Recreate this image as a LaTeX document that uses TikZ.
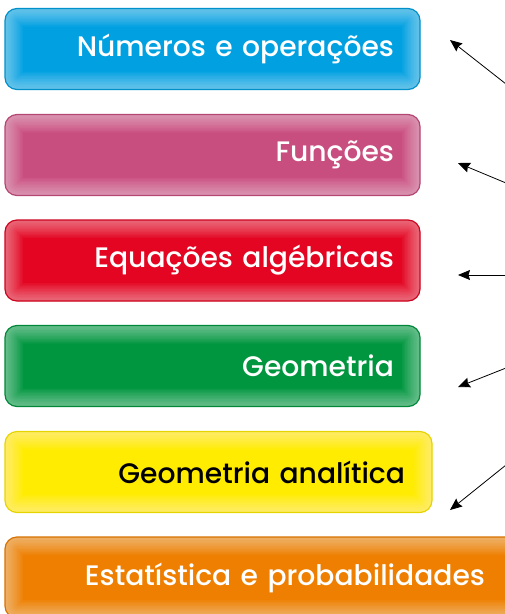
\documentclass[tikz,border=0pt]{standalone}
\usepackage{fontspec}
\setmainfont{Poppins Medium}
\usetikzlibrary{arrows.meta}

\definecolor{cblue}{HTML}{00A0E1}
\definecolor{cpink}{HTML}{C94E80}
\definecolor{cred}{HTML}{E30521}
\definecolor{cgreen}{HTML}{00963F}
\definecolor{cyellow}{HTML}{FFEC00}
\definecolor{corange}{HTML}{EE7F00}

\tikzset{
  box/.style={rectangle, rounded corners=12pt, fill=#1, draw=#1!90!black, line width=1.2pt,
    minimum height=81pt, align=right, font=\fontsize{28.2}{32}\selectfont,
    path picture={
      \foreach \w in {3,6,...,36}
        \draw[white, opacity=0.045, line width=\w pt, rounded corners=12pt]
          (path picture bounding box.south west) rectangle (path picture bounding box.north east);
    }},
  pointer/.style={line width=0.8pt, -{Stealth[length=12pt,width=10pt,inset=1.5pt]}}
}

\begin{document}
\begin{tikzpicture}[x=1pt,y=-1pt]
  \useasboundingbox (0,0) rectangle (505,614);
  \clip (0,0) rectangle (505,614);

  % topic boxes
  \node[box=cblue, text=white, text width=363pt, inner xsep=26pt] (numeros) at (212.5,49) {Números e operações};
  \node[box=cpink, text=white, text width=363pt, inner xsep=26pt] (funcoes) at (212.5,155) {Funções};
  \node[box=cred, text=white, text width=363pt, inner xsep=26pt] (equacoes) at (212.5,260.5) {Equações algébricas};
  \node[box=cgreen, text=white, text width=363pt, inner xsep=26pt] (geometria) at (212.5,366) {Geometria};
  \node[box=cyellow, text=black, text width=373pt, inner xsep=27pt] (analitica) at (218.5,472) {Geometria analítica};
  \node[box=corange, text=white, text width=440pt, inner xsep=40pt] (estatistica) at (265,577.5) {Estatística e probabilidades};

  % arrows coming in from the right
  \coordinate (t1) at (506,84);  \coordinate (h1) at (450,40);
  \coordinate (t2) at (506,183); \coordinate (h2) at (458,163);
  \coordinate (t3) at (506,275); \coordinate (h3) at (458,275);
  \coordinate (t4) at (506,368); \coordinate (h4) at (458,387);
  \coordinate (t5) at (506,465); \coordinate (h5) at (450,510);
  \draw[pointer] (t1) -- (h1);
  \draw[pointer] (t2) -- (h2);
  \draw[pointer] (t3) -- (h3);
  \draw[pointer] (t4) -- (h4);
  \draw[pointer] (t5) -- (h5);
\end{tikzpicture}
\end{document}
